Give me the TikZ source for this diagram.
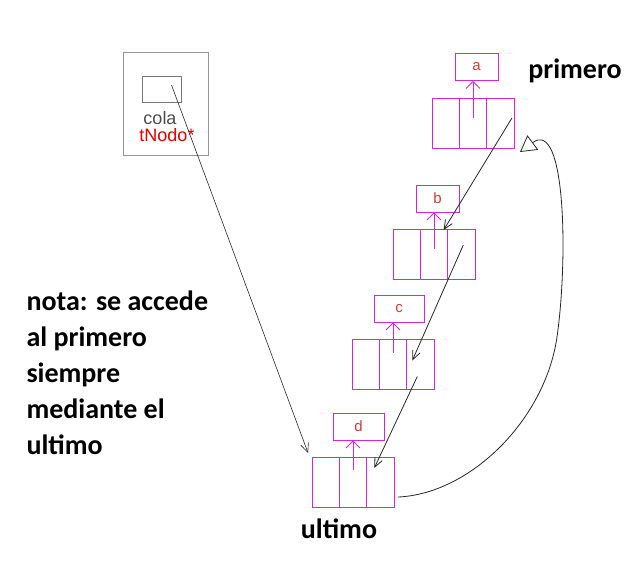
\documentclass[tikz,border=0pt]{standalone}
\usepackage{fontspec}
\setmainfont{Carlito}
\newfontfamily\arialfont{Liberation Sans}
\usetikzlibrary{positioning, arrows.meta, calc}
\definecolor{nodomag}{RGB}{210,40,210}
\definecolor{datored}{RGB}{205,60,60}
\definecolor{marcogris}{RGB}{150,150,150}

\begin{document}
\begin{tikzpicture}[x=1pt, y=-1pt,
        cell/.style={draw=nodomag, thick, minimum width=27.3pt, minimum height=50pt, inner sep=0pt, outer sep=0pt},
        dato/.style={draw=nodomag, thick, minimum height=27pt, inner sep=0pt,
          text=datored, font=\arialfont\fontsize{15}{15}\selectfont},
        ptr/.style={->, draw=nodomag, thick, >={Straight Barb[length=7pt, width=14pt]}},
        enlace/.style={->, line width=0.8pt, black!85, >={Straight Barb[length=9pt, width=8pt]}},
        etiqueta/.style={font=\bfseries\fontsize{28}{28}\selectfont}]
      \useasboundingbox (0,0) rectangle (631,574);
      % variable cola
      \node[draw=marcogris, minimum width=85pt, minimum height=103pt] (cola) at (165.5,103.5) {};
      \node[draw=marcogris!80!black, minimum width=39pt, minimum height=26pt] (colaPtr) at (161.5,89) {};
      \node[text=black!70, font=\arialfont\fontsize{18}{18}\selectfont] (colaTxt) at (160,118) {cola};
      \node[text=red!85!black, font=\arialfont\fontsize{18}{18}\selectfont] (colaTipo) at (167,135) {tNodo*};
      % nodo a
      \node[cell] (a1) at (445.7,123) {};
      \node[cell, right=0pt of a1] (a2) {};
      \node[cell, right=0pt of a2] (a3) {};
      \node[dato, minimum width=43pt] (da) at (476.5,67) {a};
      % nodo b
      \node[cell] (b1) at (406.7,254) {};
      \node[cell, right=0pt of b1] (b2) {};
      \node[cell, right=0pt of b2] (b3) {};
      \node[dato, minimum width=43pt] (db) at (437.5,198.5) {b};
      % nodo c
      \node[cell] (c1) at (365.7,364.5) {};
      \node[cell, right=0pt of c1] (c2) {};
      \node[cell, right=0pt of c2] (c3) {};
      \node[dato, minimum width=50pt] (dc) at (399,308.5) {c};
      % nodo d
      \node[cell] (d1) at (325.7,482) {};
      \node[cell, right=0pt of d1] (d2) {};
      \node[cell, right=0pt of d2] (d3) {};
      \node[dato, minimum width=51pt] (dd) at (358.5,426.5) {d};
      % punteros al dato
      \draw[ptr] ($(a2.center)+(0,-5)$) coordinate (pa) -- (pa |- da.south);
      \draw[ptr] ($(b2.center)+(0,-5)$) coordinate (pb) -- (pb |- db.south);
      \draw[ptr] ($(c2.center)+(0,-12)$) coordinate (pc) -- (pc |- dc.south);
      \draw[ptr] ($(d2.center)+(0,-12)$) coordinate (pd) -- (pd |- dd.south);
      % enlaces siguiente
      \draw[enlace] ($(a3.north east)+(-2,20)$) -- ($(b3.north west)+(-4,1)$);
      \draw[enlace] ($(b3.center)+(2,-9)$) -- ($(c3.center)+(-8,-4)$);
      \draw[enlace] ($(c3.center)+(-3,12)$) -- ($(d3.center)+(-6,-14)$);
      \draw[enlace, >={Triangle[open, length=16pt, width=18pt]}] (d3.south east) ++(4,-10)
            .. controls (470,494) and (545,420) .. (557,337)
            .. controls (568,260) and (566,118) .. ($(a3.south east)+(6,4)$);
      \draw[enlace, line width=0.6pt] (colaPtr.center) ++(10,-4) -- ($(d1.north west)+(-4,-4)$);
      % textos
      \node[etiqueta] (primero) at (575,71) {primero};
      \node[etiqueta] (ultimo) at (339,529) {ultimo};
      \node[etiqueta, align=left, anchor=north west, font=\bfseries\fontsize{28}{36}\selectfont] (nota) at (23,287)
            {nota: se accede\\al primero\\siempre\\mediante el\\ultimo};
\end{tikzpicture}
\end{document}
